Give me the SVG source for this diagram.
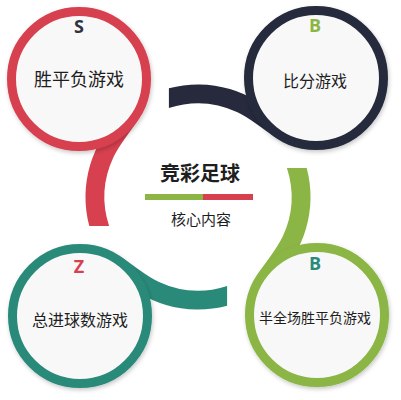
<svg xmlns="http://www.w3.org/2000/svg" width="401" height="400" viewBox="0 0 401 400">
<defs>
<filter id="sh" x="-20%" y="-20%" width="140%" height="140%">
<feDropShadow dx="1" dy="2" stdDeviation="2" flood-color="#000" flood-opacity="0.22"/>
</filter>
<path id="conn" d="M89.3,226.1 A112.5,112.5 0 0 1 122.7,113.4 L138,120.3 C131.1,130.1 118.4,146.6 113.3,157.5 A93.5,93.5 0 0 0 109.1,226.1 Z"/>
</defs>
<style>
.ring{fill:#f8f8f8;stroke-width:9;filter:url(#sh)}
.lbl{font-family:"Noto Sans CJK SC","Noto Sans",sans-serif;fill:#1e1e1e;text-anchor:middle;dominant-baseline:central}
.let{font-family:"Open Sans","Liberation Sans",sans-serif;font-weight:700;font-size:18px;text-anchor:middle}
</style>
<rect width="401" height="400" fill="#ffffff"/>
<g id="connectors">
<use href="#conn" fill="#d7404f"/>
<use href="#conn" fill="#262a3c" transform="rotate(90 198 197)"/>
<use href="#conn" fill="#8bb544" transform="rotate(180 198 197)"/>
<use href="#conn" fill="#2a8a7a" transform="rotate(270 198 197)"/>
</g>
<g id="node-s">
<circle class="ring" cx="79" cy="79" r="67.5" stroke="#d7404f"/>
<text class="let" x="79" y="33" fill="#2f3340">S</text>
<text class="lbl" x="79" y="78" font-size="18">胜平负游戏</text>
</g>
<g id="node-bf">
<circle class="ring" cx="316" cy="78" r="67.5" stroke="#262a3c"/>
<text class="let" x="315" y="32" fill="#8bb544">B</text>
<text class="lbl" x="315" y="80" font-size="16">比分游戏</text>
</g>
<g id="node-bq">
<circle class="ring" cx="317" cy="315" r="67.5" stroke="#8bb544"/>
<text class="let" x="315" y="270" fill="#2a8a7a">B</text>
<text class="lbl" x="315" y="317" font-size="14">半全场胜平负游戏</text>
</g>
<g id="node-z">
<circle class="ring" cx="80" cy="316" r="67.5" stroke="#2a8a7a"/>
<text class="let" x="79" y="273" fill="#d7404f">Z</text>
<text class="lbl" x="80" y="319" font-size="16">总进球数游戏</text>
</g>
<g id="center">
<text class="lbl" x="200" y="172" font-size="20" font-weight="700" fill="#111">竞彩足球</text>
<rect x="145" y="194" width="58" height="6" fill="#8bb544"/>
<rect x="203" y="194" width="50" height="6" fill="#d7404f"/>
<text class="lbl" x="201" y="218" font-size="15" fill="#333">核心内容</text>
</g>
</svg>
